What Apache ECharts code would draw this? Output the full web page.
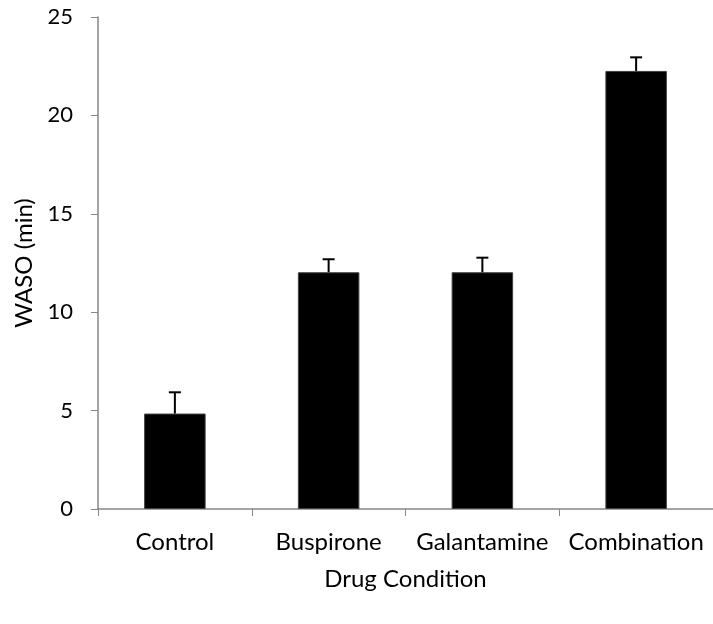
<!DOCTYPE html>
<html>
<head>
<meta charset="utf-8">
<script src="https://cdn.jsdelivr.net/npm/echarts@6/dist/echarts.min.js"></script>
<style>
  html, body { margin: 0; padding: 0; background: #fff; }
  #chart { width: 713px; height: 624px; }
</style>
</head>
<body>
<div id="chart"></div>
<script>
  // WASO by drug condition
  var categories = ['Control', 'Buspirone', 'Galantamine', 'Combination']
  var wasoMean = [4.85, 12.03, 12.03, 22.26]
  var wasoErr = [1.08, 0.66, 0.74, 0.69]
  var yTicks = [0, 5, 10, 15, 20, 25]

  var font = 'Lato, "Open Sans", sans-serif'
  var axisGrey = '#868686'

  var errData = categories.map(function(c, i) {
    return [i, wasoMean[i], wasoMean[i] + wasoErr[i]]
  })

  var chart = echarts.init(document.getElementById('chart'))
  chart.setOption({
    animation: false,
    textStyle: { fontFamily: font },
    grid: {
      left: 98,
      top: 17,
      width: 618,
      height: 492
    },
    xAxis: {
      type: 'category',
      data: categories,
      name: 'Drug Condition',
      nameLocation: 'middle',
      nameGap: 58,
      nameTextStyle: { color: '#000', fontSize: 24, fontFamily: font },
      axisLine: { lineStyle: { color: axisGrey, width: 1.5 } },
      axisTick: { show: true, interval: 0, length: 7, lineStyle: { color: axisGrey } },
      axisLabel: { interval: 0, hideOverlap: false, color: '#000', fontSize: 24, margin: 21, fontFamily: font }
    },
    yAxis: {
      type: 'value',
      min: yTicks[0],
      max: yTicks[yTicks.length - 1],
      interval: 5,
      name: 'WASO (min)',
      nameLocation: 'middle',
      nameGap: 61,
      nameTextStyle: { color: '#000', fontSize: 24, fontFamily: font },
      splitLine: { show: false },
      axisLine: { show: true, lineStyle: { color: axisGrey, width: 1.5 } },
      axisTick: { show: true, length: 7, lineStyle: { color: axisGrey } },
      axisLabel: { color: '#000', fontSize: 22, margin: 25, fontFamily: font }
    },
    series: [
      {
        type: 'bar',
        data: wasoMean,
        barWidth: '40%',
        itemStyle: { color: '#000', borderColor: '#404040', borderWidth: 1 }
      },
      {
        type: 'custom',
        data: errData,
        z: 5,
        renderItem: function(params, api) {
          var base = api.coord([api.value(0), api.value(1)])
          var top = api.coord([api.value(0), api.value(2)])
          var half = 6
          return {
            type: 'group',
            children: [
              {
                type: 'line',
                shape: { x1: base[0], y1: base[1], x2: top[0], y2: top[1] },
                style: { stroke: '#000', lineWidth: 2 }
              },
              {
                type: 'line',
                shape: { x1: top[0] - half, y1: top[1], x2: top[0] + half, y2: top[1] },
                style: { stroke: '#000', lineWidth: 2 }
              }
            ]
          }
        }
      }
    ]
  })
</script>
</body>
</html>
